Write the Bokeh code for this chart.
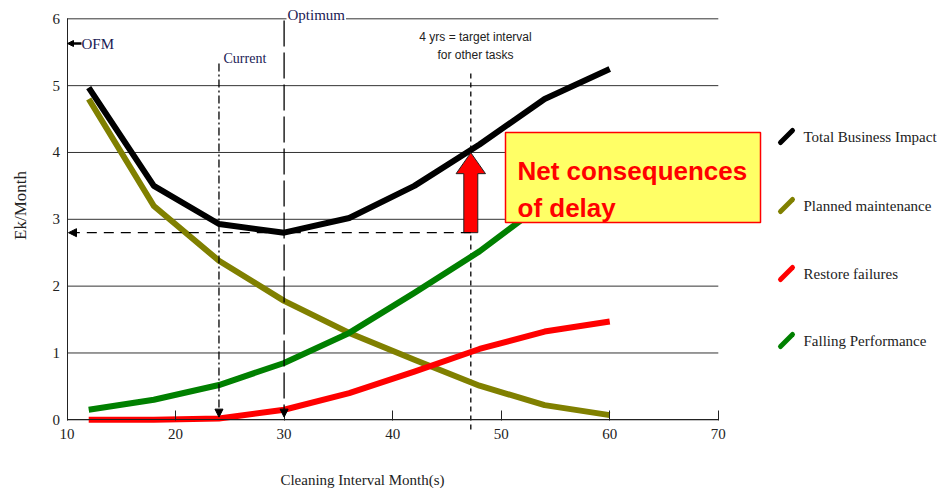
import numpy as np
from bokeh.plotting import figure
from bokeh.models import (Range1d, LinearAxis, FixedTicker, Label, Arrow,
                          NormalHead, BoxAnnotation)
from bokeh.embed import file_html
from bokeh.resources import INLINE

# ---------------- data ----------------
interval = [12, 18, 24, 30, 36, 42, 48, 54, 60]
total_impact = [4.97, 3.50, 2.93, 2.80, 3.02, 3.50, 4.12, 4.80, 5.25]
planned_maint = [4.80, 3.20, 2.38, 1.78, 1.30, 0.90, 0.51, 0.22, 0.07]
restore_fail = [0.00, 0.00, 0.02, 0.15, 0.40, 0.72, 1.06, 1.32, 1.47]
falling_perf = [0.15, 0.30, 0.52, 0.85, 1.30, 1.90, 2.52, 3.25, 3.70]
x_ticks = [10, 20, 30, 40, 50, 60, 70]
y_ticks = [0, 1, 2, 3, 4, 5, 6]
current_interval = 24
optimum_interval = 30
target_interval = 47.2
series_names = ["Total Business Impact", "Planned maintenance",
                "Restore failures", "Falling Performance"]
series_colors = ["#000000", "#808000", "#ff0000", "#008000"]

# ---------------- pixel mapping (frame = whole canvas) ----------------
W, H = 937, 488
X0_PX, XS = 66.5, 10.855      # x=10 at 66.5 px, px per unit
Y0_PX, YS = 419.3, 66.83      # y=0 at 419.3 px, px per unit
x_start = 10 - X0_PX / XS
x_end = 10 + (W - X0_PX) / XS
y_end = Y0_PX / YS
y_start = -(H - Y0_PX) / YS

def px2x(px):
    return x_start + px / XS

def px2y(py):
    return y_end - py / YS

p = figure(width=W, height=H, x_range=Range1d(x_start, x_end),
           y_range=Range1d(y_start, y_end), output_backend="svg",
           toolbar_location=None, x_axis_type=None, y_axis_type=None,
           min_border=0, outline_line_color=None)
p.background_fill_color = "white"
p.border_fill_color = "white"

SERIF = "Liberation Serif"
SANS = "Liberation Sans"

# horizontal grid lines spanning the x axis extent only
p.segment(x0=[x_ticks[0]] * len(y_ticks), y0=y_ticks,
          x1=[x_ticks[-1]] * len(y_ticks), y1=y_ticks,
          line_color="#333333", line_width=1)

xaxis = LinearAxis(fixed_location=0, bounds=(10, 70),
                   ticker=FixedTicker(ticks=x_ticks))
xaxis.major_tick_in = 9
xaxis.major_tick_out = 1
xaxis.minor_tick_line_color = None
xaxis.major_label_standoff = 8
xaxis.major_label_text_font = SERIF
xaxis.major_label_text_font_size = "15px"
xaxis.major_label_text_color = "#222222"
xaxis.axis_line_color = "#222222"
xaxis.major_tick_line_color = "#222222"
p.add_layout(xaxis, "below")

yaxis = LinearAxis(fixed_location=10, bounds=(0, 6),
                   ticker=FixedTicker(ticks=y_ticks))
yaxis.major_tick_in = 0
yaxis.major_tick_out = 0
yaxis.minor_tick_line_color = None
yaxis.major_label_standoff = 7
yaxis.major_label_text_font = SERIF
yaxis.major_label_text_font_size = "15px"
yaxis.major_label_text_color = "#222222"
yaxis.axis_line_color = "#222222"
p.add_layout(yaxis, "left")

# ---------------- reference lines ----------------
opt_total = float(np.interp(optimum_interval, interval, total_impact))
target_total = float(np.interp(target_interval, interval, total_impact))

p.add_layout(Arrow(x_start=optimum_interval, y_start=px2y(20), x_end=optimum_interval,
                   y_end=0.04, line_color="black", line_width=1.3, line_dash="26 6",
                   end=NormalHead(size=8, fill_color="black", line_color="black")))
p.add_layout(Arrow(x_start=current_interval, y_start=px2y(63), x_end=current_interval,
                   y_end=0.04, line_color="black", line_width=1.3, line_dash="8 3 2 3",
                   end=NormalHead(size=8, fill_color="black", line_color="black")))
p.segment(x0=[target_interval], y0=[px2y(73)], x1=[target_interval], y1=[px2y(431)],
          line_color="black", line_width=1.3, line_dash="5 4")
p.add_layout(Arrow(x_start=target_interval, y_start=opt_total, x_end=px2x(68),
                   y_end=opt_total, line_color="black", line_width=1.3, line_dash="10 7",
                   end=NormalHead(size=8, fill_color="black", line_color="black")))
p.add_layout(Arrow(x_start=px2x(81), y_start=px2y(43), x_end=px2x(67), y_end=px2y(43),
                   line_color="black", line_width=2.5,
                   end=NormalHead(size=6, fill_color="black", line_color="black")))

# ---------------- series ----------------
order = [1, 3, 2, 0]
ys = [total_impact, planned_maint, restore_fail, falling_perf]
for i in order:
    p.line(interval, ys[i], line_color=series_colors[i], line_width=6,
           line_join="round")

# ---------------- red arrow ----------------
half_shaft = 7 / XS
half_head = 14.7 / XS
head_h = 21 / YS
tip = target_total - 0.04
ax = [target_interval - half_shaft, target_interval - half_shaft, target_interval - half_head,
      target_interval, target_interval + half_head, target_interval + half_shaft,
      target_interval + half_shaft]
ay = [opt_total, tip - head_h, tip - head_h, tip, tip - head_h, tip - head_h, opt_total]
p.patch(ax, ay, fill_color="#ff0000", line_color="#222222", line_width=1)

# ---------------- callout box ----------------
p.add_layout(BoxAnnotation(left=px2x(505), right=px2x(760), top=px2y(132), bottom=px2y(222),
                           fill_color="#ffff66", fill_alpha=1.0, line_color="#ff0000",
                           line_alpha=1.0, line_width=1.5, level="overlay"))
for txt, py in [("Net consequences", 170), ("of delay", 207)]:
    p.add_layout(Label(x=px2x(517), y=px2y(py), text=txt, text_font=SANS,
                       text_font_style="bold", text_font_size="26px", text_color="#ff0000",
                       text_baseline="alphabetic", text_align="left", level="overlay"))

# ---------------- labels ----------------
p.add_layout(Label(x=px2x(286), y=px2y(14), text="Optimum", text_font=SERIF,
                   text_font_size="15px", text_color="#1a1a55", text_baseline="middle",
                   text_align="left", background_fill_color="white",
                   padding=1))
p.add_layout(Label(x=px2x(223), y=px2y(58), text="Current", text_font=SERIF,
                   text_font_size="14px", text_color="#1a1a55", text_baseline="middle",
                   text_align="left"))
p.add_layout(Label(x=px2x(81), y=px2y(43), text="OFM", text_font=SERIF,
                   text_font_size="15px", text_color="#1a1a55", text_baseline="middle",
                   text_align="left"))
for txt, py in [("4 yrs = target interval", 36), ("for other tasks", 54)]:
    p.add_layout(Label(x=px2x(475), y=px2y(py), text=txt, text_font=SANS,
                       text_font_size="12px", text_color="#222222", text_baseline="middle",
                       text_align="center"))
p.add_layout(Label(x=px2x(362), y=px2y(479), text="Cleaning Interval Month(s)",
                   text_font=SERIF, text_font_size="15px", text_color="#222222",
                   text_baseline="middle", text_align="center"))
p.add_layout(Label(x=px2x(20), y=px2y(205), text="Ek/Month", text_font=SERIF,
                   text_font_size="17px", text_color="#222222", text_baseline="middle",
                   text_align="center", angle=np.pi / 2))

# ---------------- legend ----------------
leg_y = [136, 205, 273, 340]
for name, col, py in zip(series_names, series_colors, leg_y):
    p.segment(x0=[px2x(780)], y0=[px2y(py + 6)], x1=[px2x(792)], y1=[px2y(py - 6)],
              line_color=col, line_width=5, line_cap="round")
    p.add_layout(Label(x=px2x(803), y=px2y(py), text=name, text_font=SERIF,
                       text_font_size="15px", text_color="#222222",
                       text_baseline="middle", text_align="left"))

open("out.html", "w").write(file_html(p, INLINE))
